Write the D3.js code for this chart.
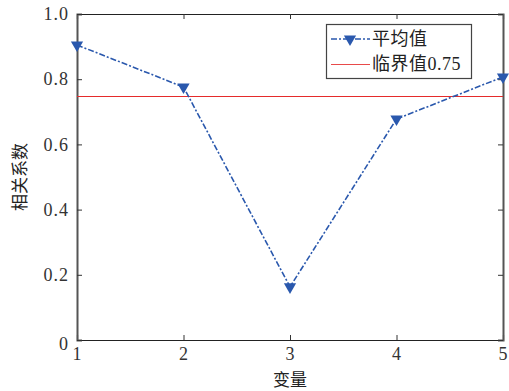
<!DOCTYPE html>
<html>
<head>
<meta charset="utf-8">
<script src="https://cdn.jsdelivr.net/npm/d3@7"></script>
<style>
body { margin: 0; background: #fff; }
svg text { font-family: "Liberation Serif", "Noto Sans CJK SC", serif; }
</style>
</head>
<body>
<svg width="509" height="391"></svg>
<script>
const variables = [1, 2, 3, 4, 5];
const meanValues = [0.905, 0.776, 0.163, 0.678, 0.807];
const threshold = 0.75;
const yTicks = [0, 0.2, 0.4, 0.6, 0.8, 1.0];
const seriesNames = ["平均值", "临界值0.75"];

const svg = d3.select("svg");
const margin = { top: 14, right: 6, bottom: 51, left: 77 };
const width = +svg.attr("width") - margin.left - margin.right;
const height = +svg.attr("height") - margin.top - margin.bottom;

const x = d3.scaleLinear().domain([1, 5]).range([0, width]);
const y = d3.scaleLinear().domain([0, 1]).range([height, 0]);

const g = svg.append("g").attr("transform", `translate(${margin.left},${margin.top})`);

const fmtY = d => d === 0 ? "0" : d.toFixed(1);

// axes, ticks point inward
const axBottom = g.append("g").attr("transform", `translate(0,${height})`)
    .call(d3.axisBottom(x).tickValues(variables).tickSize(-5).tickPadding(7).tickFormat(d3.format("d")));
const axTop = g.append("g")
    .call(d3.axisTop(x).tickValues(variables).tickSize(-5).tickFormat(""));
const axLeft = g.append("g")
    .call(d3.axisLeft(y).tickValues(yTicks).tickSize(-5).tickPadding(8).tickFormat(fmtY));
const axRight = g.append("g").attr("transform", `translate(${width},0)`)
    .call(d3.axisRight(y).tickValues(yTicks).tickSize(-5).tickFormat(""));

[axBottom, axTop, axLeft, axRight].forEach(a => {
    a.select(".domain").attr("stroke", "#222").attr("stroke-width", 1.2);
    a.selectAll(".tick line").attr("stroke", "#333");
    a.selectAll("text").attr("fill", "#333").attr("font-size", 18)
        .attr("letter-spacing", 1)
        .style("font-family", "'Liberation Serif', serif");
});
axLeft.select(".domain").attr("stroke", "#555").attr("stroke-width", 2);
axRight.select(".domain").attr("stroke", "#555").attr("stroke-width", 2);
axBottom.selectAll("text").attr("dy", "0.71em");
// "0" sits lower on y-axis like reference
axLeft.selectAll(".tick text").attr("dy", d => d === 0 ? "0.5em" : "0.32em");

// threshold line
const ty = Math.round(y(threshold)) + 0.5;
g.append("line")
    .attr("x1", 0).attr("x2", width)
    .attr("y1", ty).attr("y2", ty)
    .attr("stroke", "#e52b2b").attr("stroke-width", 1.1);

// mean line
const blue = "#2a58ad";
const dash = "6,2,2,2";
const line = d3.line().x((d, i) => x(variables[i])).y(d => y(d));
g.append("path").datum(meanValues)
    .attr("d", line)
    .attr("fill", "none").attr("stroke", blue)
    .attr("stroke-width", 1.6).attr("stroke-dasharray", dash);

const tri = d3.symbol().type(d3.symbolTriangle).size(65);
g.selectAll(".mk").data(meanValues).enter().append("path")
    .attr("class", "mk")
    .attr("d", tri)
    .attr("transform", (d, i) => `translate(${x(variables[i])},${y(d)}) rotate(180)`)
    .attr("fill", blue);

// legend
const lg = svg.append("g").attr("transform", "translate(326,24)");
lg.append("rect").attr("x", 0.5).attr("y", 0.5).attr("width", 145).attr("height", 54)
    .attr("fill", "#fff").attr("stroke", "#444").attr("stroke-width", 1.2);
lg.append("line").attr("x1", 5).attr("x2", 44).attr("y1", 15).attr("y2", 15)
    .attr("stroke", blue).attr("stroke-width", 1.6).attr("stroke-dasharray", dash);
lg.append("path").attr("d", tri).attr("transform", "translate(24,15) rotate(180)").attr("fill", blue);
lg.append("line").attr("x1", 5).attr("x2", 44).attr("y1", 40.5).attr("y2", 40.5)
    .attr("stroke", "#e84a4a").attr("stroke-width", 1.1);
lg.selectAll(".lt").data(seriesNames).enter().append("text")
    .attr("x", 46).attr("y", (d, i) => 15 + i * 25)
    .attr("dy", "0.36em").attr("font-size", 18).attr("fill", "#222")
    .attr("letter-spacing", 0.5)
    .text(d => d);

// axis titles
svg.append("text")
    .attr("x", margin.left + width / 2).attr("y", 386)
    .attr("text-anchor", "middle").attr("font-size", 17).attr("fill", "#222")
    .text("变量");
svg.append("text")
    .attr("transform", `translate(26,${margin.top + height / 2}) rotate(-90)`)
    .attr("text-anchor", "middle").attr("font-size", 17).attr("fill", "#222")
    .text("相关系数");
</script>
</body>
</html>
